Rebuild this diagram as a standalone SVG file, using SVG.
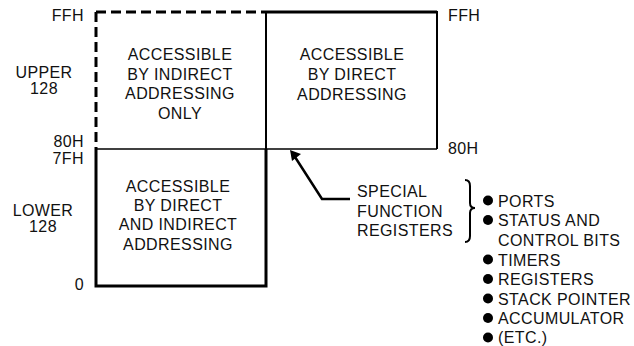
<svg xmlns="http://www.w3.org/2000/svg" width="634" height="346" viewBox="0 0 634 346">
<style>
text{font-family:"Liberation Sans",Arial,sans-serif;font-size:16px;fill:#111;letter-spacing:0.4px}
.c{text-anchor:middle}
.r{text-anchor:end}
.ln{stroke:#000;fill:none}
</style>
<rect width="634" height="346" fill="#fff"/>
<g id="connectors">
<path class="ln" d="M96,12 H266 M96,12 V149" stroke-width="3" stroke-dasharray="10 5"/>
<path class="ln" d="M266,12 H437" stroke-width="3"/>
<path class="ln" d="M437,11 V149" stroke-width="2"/>
<path class="ln" d="M96,149 H437" stroke-width="1.5"/>
<path class="ln" d="M266,11 V149" stroke-width="2"/>
<path class="ln" d="M266,149 V287 M96,149 V287 M94.5,286 H267.5" stroke-width="3"/>
<path class="ln" d="M350,199 H322 L295,157" stroke-width="2.5"/>
<polygon points="290,150 301,154 292,161" fill="#000"/>
<path class="ln" d="M465,180 Q470,180 470,186 V203 Q470,208 475,208 Q470,208 470,213 V236 Q470,242 465,242" stroke-width="2"/>
</g>
<g id="labels-left">
<text class="r" x="84" y="21">FFH</text>
<text class="c" x="44" y="78">UPPER</text>
<text class="c" x="44" y="94">128</text>
<text class="r" x="84" y="147">80H</text>
<text class="r" x="84" y="164">7FH</text>
<text class="c" x="43" y="216">LOWER</text>
<text class="c" x="43" y="232">128</text>
<text class="r" x="84" y="290">0</text>
</g>
<g id="labels-right">
<text x="448" y="21">FFH</text>
<text x="448" y="154">80H</text>
</g>
<g id="upper-indirect">
<text class="c" x="180" y="60">ACCESSIBLE</text>
<text class="c" x="180" y="79.5">BY INDIRECT</text>
<text class="c" x="180" y="99">ADDRESSING</text>
<text class="c" x="180" y="118.5">ONLY</text>
</g>
<g id="upper-direct">
<text class="c" x="352" y="60">ACCESSIBLE</text>
<text class="c" x="352" y="80">BY DIRECT</text>
<text class="c" x="352" y="100">ADDRESSING</text>
</g>
<g id="lower">
<text class="c" x="178" y="192">ACCESSIBLE</text>
<text class="c" x="178" y="211">BY DIRECT</text>
<text class="c" x="178" y="230">AND INDIRECT</text>
<text class="c" x="178" y="250">ADDRESSING</text>
</g>
<g id="sfr">
<text x="357" y="197">SPECIAL</text>
<text x="357" y="216.5">FUNCTION</text>
<text x="357" y="236">REGISTERS</text>
</g>
<g id="sfr-list">
<circle cx="488" cy="200.5" r="5"/>
<circle cx="488" cy="220" r="5"/>
<circle cx="488" cy="259.5" r="5"/>
<circle cx="488" cy="279" r="5"/>
<circle cx="488" cy="298.5" r="5"/>
<circle cx="488" cy="318" r="5"/>
<circle cx="488" cy="337.5" r="5"/>
<text x="498" y="206.5">PORTS</text>
<text x="498" y="226">STATUS AND</text>
<text x="498" y="246">CONTROL BITS</text>
<text x="498" y="265.5">TIMERS</text>
<text x="498" y="285">REGISTERS</text>
<text x="498" y="304.5">STACK POINTER</text>
<text x="498" y="324">ACCUMULATOR</text>
<text x="498" y="343">(ETC.)</text>
</g>
</svg>
